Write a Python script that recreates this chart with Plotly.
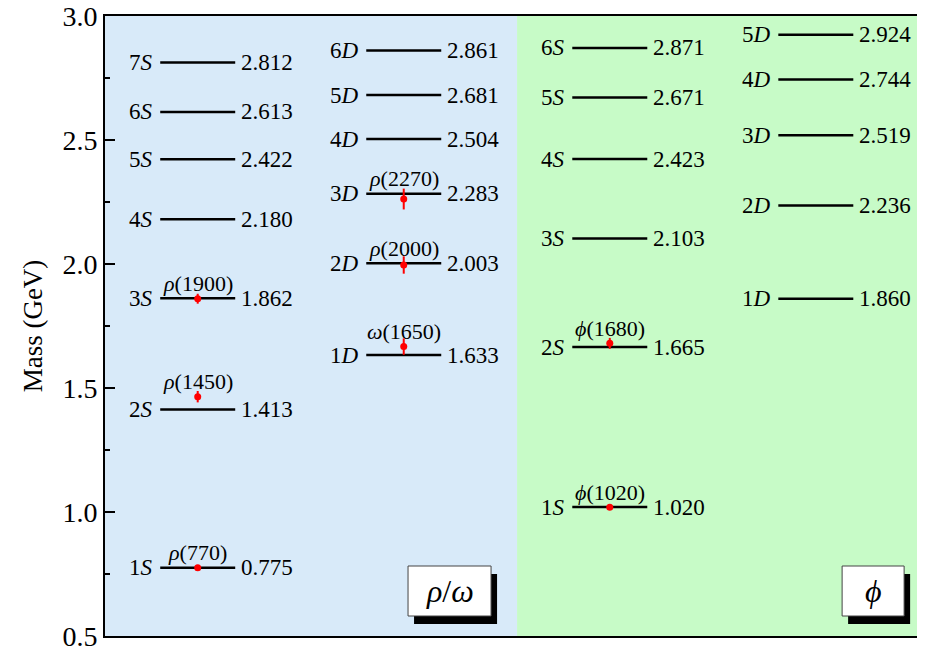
"""
Meson spectrum: rho/omega and phi families
"""

import plotly.graph_objects as go

# =====================================================
# Data
# =====================================================

rho_s_states = ["1", "2", "3", "4", "5", "6", "7"]
rho_s_mass = [0.775, 1.413, 1.862, 2.180, 2.422, 2.613, 2.812]

rho_d_states = ["1", "2", "3", "4", "5", "6"]
rho_d_mass = [1.633, 2.003, 2.283, 2.504, 2.681, 2.861]

phi_s_states = ["1", "2", "3", "4", "5", "6"]
phi_s_mass = [1.020, 1.665, 2.103, 2.423, 2.671, 2.871]

phi_d_states = ["1", "2", "3", "4", "5"]
phi_d_mass = [1.860, 2.236, 2.519, 2.744, 2.924]

# experimental states (name, level index, mass, error)
rho_s_exp_names = ["ρ", "ρ", "ρ"]
rho_s_exp_ids = ["(770)", "(1450)", "(1900)"]
rho_s_exp_level = [0, 1, 2]
rho_s_exp_mass = [0.775, 1.465, 1.860]
rho_s_exp_err = [0.001, 0.023, 0.020]

rho_d_exp_names = ["ω", "ρ", "ρ"]
rho_d_exp_ids = ["(1650)", "(2000)", "(2270)"]
rho_d_exp_level = [0, 1, 2]
rho_d_exp_mass = [1.667, 1.996, 2.262]
rho_d_exp_err = [0.033, 0.035, 0.042]

phi_s_exp_names = ["ϕ", "ϕ"]
phi_s_exp_ids = ["(1020)", "(1680)"]
phi_s_exp_level = [0, 1]
phi_s_exp_mass = [1.019, 1.680]
phi_s_exp_err = [0.002, 0.022]

# =====================================================
# Layout constants
# =====================================================

FONT = "Liberation Serif"
HALF = 0.182
X_RANGE = [0, 3.98]
Y_RANGE = [0.5, 3.0]

columns = [
    (0.45, "S", rho_s_states, rho_s_mass,
     rho_s_exp_names, rho_s_exp_ids, rho_s_exp_level, rho_s_exp_mass, rho_s_exp_err),
    (1.45, "D", rho_d_states, rho_d_mass,
     rho_d_exp_names, rho_d_exp_ids, rho_d_exp_level, rho_d_exp_mass, rho_d_exp_err),
    (2.45, "S", phi_s_states, phi_s_mass,
     phi_s_exp_names, phi_s_exp_ids, phi_s_exp_level, phi_s_exp_mass, phi_s_exp_err),
    (3.45, "D", phi_d_states, phi_d_mass,
     [], [], [], [], []),
]

fig = go.Figure()
annotations = []

for cx, wave, states, masses, en, eid, elev, em, ee in columns:

    # level lines
    xs, ys = [], []
    for m in masses:
        xs += [cx - HALF, cx + HALF, None]
        ys += [m, m, None]

    fig.add_trace(
        go.Scatter(
            x=xs,
            y=ys,
            mode="lines",
            line=dict(color="black", width=2.5),
            showlegend=False,
            hoverinfo="skip"
        )
    )

    for n, m in zip(states, masses):
        annotations.append(dict(
            x=cx - HALF, y=m, xanchor="right", yanchor="middle",
            xshift=-5, showarrow=False,
            text=f"{n}<i>{wave}</i>",
            font=dict(family=FONT, size=23, color="black")
        ))
        annotations.append(dict(
            x=cx + HALF, y=m, xanchor="left", yanchor="middle",
            xshift=4, showarrow=False,
            text=f"{m:.3f}",
            font=dict(family=FONT, size=23, color="black")
        ))

    # experimental points
    if em:
        fig.add_trace(
            go.Scatter(
                x=[cx] * len(em),
                y=em,
                mode="markers",
                marker=dict(color="red", size=7),
                error_y=dict(type="data", array=ee, color="red",
                             thickness=2, width=0),
                showlegend=False,
                hoverinfo="skip"
            )
        )

        for name, pid, lev, m in zip(en, eid, elev, em):
            annotations.append(dict(
                x=cx, y=max(m, masses[lev]), xanchor="center",
                yanchor="middle", yshift=15, showarrow=False,
                text=f"<i>{name}</i>{pid}",
                font=dict(family=FONT, size=22, color="black")
            ))

# =====================================================
# Background panels and label boxes
# =====================================================

# page body has an 8px margin: pixel helpers work in screen pixels
OFF = 8
PX0, PY0, SX, SY = 105, 636, 206.0, 248.0


def px(x):
    return (x - PX0) / SX


def py(y):
    return Y_RANGE[0] + (PY0 - y) / SY


shapes = [
    dict(type="rect", x0=0, x1=2, y0=Y_RANGE[0], y1=Y_RANGE[1],
         fillcolor="#d8eaf9", line=dict(width=0), layer="below"),
    dict(type="rect", x0=2, x1=X_RANGE[1], y0=Y_RANGE[0], y1=Y_RANGE[1],
         fillcolor="#c7fbc7", line=dict(width=0), layer="below"),
]

for (l, t, r, b), label in [((408, 566, 491, 616), "<i>ρ</i>/<i>ω</i>"),
                            ((842, 566, 904, 616), "<i>ϕ</i>")]:
    shapes.append(dict(type="rect", x0=px(l + 6), x1=px(r + 6),
                       y0=py(b + 8), y1=py(t + 8),
                       fillcolor="black", line=dict(width=0)))
    shapes.append(dict(type="rect", x0=px(l), x1=px(r),
                       y0=py(b), y1=py(t),
                       fillcolor="white", line=dict(color="#444", width=1)))
    annotations.append(dict(
        x=px((l + r) / 2), y=py((t + b) / 2), xanchor="center",
        yanchor="middle", showarrow=False, text=label,
        font=dict(family=FONT, size=32, color="black")
    ))

# =====================================================
# Layout
# =====================================================

fig.update_layout(
    width=925 - OFF,
    height=651 - OFF,
    paper_bgcolor="white",
    plot_bgcolor="white",
    margin=dict(l=105 - OFF, r=0, t=16 - OFF, b=15),
    shapes=shapes,
    annotations=annotations,
    font=dict(family=FONT, color="black")
)

fig.update_xaxes(
    range=X_RANGE,
    showticklabels=False,
    ticks="",
    showgrid=False,
    zeroline=False,
    showline=True,
    linecolor="black",
    linewidth=2,
    mirror=True,
    automargin=False
)

fig.update_yaxes(
    range=Y_RANGE,
    tickvals=[0.5, 1.0, 1.5, 2.0, 2.5, 3.0],
    ticktext=["0.5", "1.0", "1.5", "2.0", "2.5", "3.0"],
    ticklabeloverflow="allow",
    automargin=False,
    ticks="inside",
    ticklen=10,
    tickwidth=2,
    tickcolor="black",
    minor=dict(ticks="inside", tickvals=[0.75, 1.25, 1.75, 2.25, 2.75],
               ticklen=5, tickwidth=2, tickcolor="black"),
    tickfont=dict(family=FONT, size=28, color="black"),
    title=dict(text="Mass (GeV)", font=dict(family=FONT, size=27),
               standoff=12),
    showgrid=False,
    zeroline=False,
    showline=True,
    linecolor="black",
    linewidth=2,
    mirror=True
)

fig.write_html("out.html")
